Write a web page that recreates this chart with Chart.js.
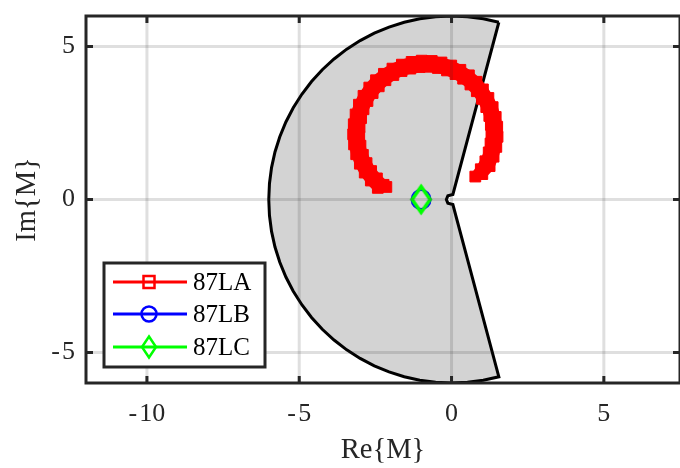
<!DOCTYPE html>
<html>
<head>
<meta charset="utf-8">
<script src="https://cdn.jsdelivr.net/npm/chart.js@4/dist/chart.umd.min.js"></script>
<style>
  html, body { margin: 0; padding: 0; overflow: hidden; background: #fff; }
  canvas { display: block; }
</style>
</head>
<body>
<canvas id="chart" width="680" height="468"></canvas>
<script>
"use strict";

// stability region outline: outer arc (r = 6), then the small notch round the origin
var regionRe = [1.553, 1.042, 0.523, 0, -0.523, -1.042, -1.553, -2.052, -2.536, -3, -3.441, -3.857, -4.243,
                -4.596, -4.915, -5.196, -5.438, -5.638, -5.796, -5.909, -5.977, -6, -5.977, -5.909, -5.796,
                -5.638, -5.438, -5.196, -4.915, -4.596, -4.243, -3.857, -3.441, -3, -2.536, -2.052, -1.553,
                -1.042, -0.523, 0, 0.523, 1.042, 1.553,
                0.044, -0.120, -0.170, -0.120, 0.044, 1.553];
var regionIm = [5.796, 5.909, 5.977, 6, 5.977, 5.909, 5.796, 5.638, 5.438, 5.196, 4.915, 4.596, 4.243,
                3.857, 3.441, 3, 2.536, 2.052, 1.553, 1.042, 0.523, 0, -0.523, -1.042, -1.553,
                -2.052, -2.536, -3, -3.441, -3.857, -4.243, -4.596, -4.915, -5.196, -5.438, -5.638, -5.796,
                -5.909, -5.977, -6, -5.977, -5.909, -5.796,
                -0.164, -0.120, 0, 0.120, 0.164, 5.796];

// 87LA, inner and outer traces
var laInnerRe = [0.78, 0.96, 1.11, 1.22, 1.28, 1.31, 1.29, 1.24, 1.14, 1.00, 0.83, 0.62, 0.38, 0.13, -0.15, -0.45,
                 -0.75, -1.05, -1.35, -1.64, -1.91, -2.17, -2.39, -2.59, -2.76, -2.89, -2.97, -3.02, -3.03, -2.99,
                 -2.91, -2.79, -2.64, -2.45, -2.23, -2.14];
var laInnerIm = [0.75, 0.99, 1.25, 1.54, 1.83, 2.13, 2.44, 2.73, 3.02, 3.29, 3.54, 3.76, 3.95, 4.10, 4.22, 4.30,
                 4.34, 4.33, 4.28, 4.20, 4.07, 3.90, 3.70, 3.48, 3.22, 2.95, 2.66, 2.36, 2.06, 1.76,
                 1.46, 1.19, 0.93, 0.69, 0.48, 0.41];
var laOuterRe = [1.01, 1.25, 1.38, 1.47, 1.51, 1.50, 1.45, 1.35, 1.21, 1.03, 0.82, 0.57, 0.29, -0.01, -0.33, -0.65,
                 -0.98, -1.31, -1.63, -1.94, -2.22, -2.48, -2.70, -2.89, -3.04, -3.15, -3.21, -3.23, -3.20, -3.13,
                 -3.01, -2.85, -2.65, -2.42];
var laOuterIm = [0.83, 1.09, 1.40, 1.72, 2.05, 2.38, 2.70, 3.02, 3.32, 3.60, 3.85, 4.06, 4.24, 4.38, 4.48, 4.53,
                 4.54, 4.50, 4.41, 4.28, 4.11, 3.90, 3.66, 3.39, 3.10, 2.78, 2.46, 2.13, 1.80, 1.48,
                 1.17, 0.88, 0.62, 0.38];

var lbRe = [-1];
var lbIm = [0];
var lcRe = [-1];
var lcIm = [0];

var seriesNames = ["87LA", "87LB", "87LC"];
var seriesColors = ["#ff0000", "#0000ff", "#00ff00"];
var xTicks = [-10, -5, 0, 5];
var yTicks = [-5, 0, 5];

var AXIS_COLOR = "#262626";
var SERIF = "'Liberation Serif', 'Times New Roman', serif";

function toPoints(xs, ys) {
  return xs.map(function(x, i) { return { x: x, y: ys[i] }; });
}

function noScalePadding(scale) {
  scale.paddingLeft = 0;
  scale.paddingRight = 0;
  scale.paddingTop = 0;
  scale.paddingBottom = 0;
}

// negative labels get a hair of air after the sign
function tickText(v) {
  return v < 0 ? "-\u200A" + Math.abs(v) : String(v);
}

function diamondPath(ctx, cx, cy, hw, hh) {
  ctx.moveTo(cx, cy - hh);
  ctx.lineTo(cx + hw, cy);
  ctx.lineTo(cx, cy + hh);
  ctx.lineTo(cx - hw, cy);
  ctx.closePath();
}

// hollow diamond marker, a bit taller than wide
function makeDiamond(hw, hh, lw, color) {
  var c = document.createElement("canvas");
  c.width = Math.ceil(2 * hw + 2 * lw + 2);
  c.height = Math.ceil(2 * hh + 2 * lw + 2);
  var g = c.getContext("2d");
  g.strokeStyle = color;
  g.lineWidth = lw;
  g.lineJoin = "miter";
  g.beginPath();
  diamondPath(g, c.width / 2, c.height / 2, hw, hh);
  g.stroke();
  return c;
}

// grid on top of the data, box, inward ticks, legend
var axesOverlay = {
  id: "axesOverlay",
  afterDatasetsDraw: function(chart) {
    var ctx = chart.ctx;
    var area = chart.chartArea;
    var xs = chart.scales.x;
    var ys = chart.scales.y;

    ctx.save();
    ctx.strokeStyle = "rgba(38,38,38,0.15)";
    ctx.lineWidth = 3;
    xTicks.forEach(function(v) {
      var px = xs.getPixelForValue(v);
      ctx.beginPath();
      ctx.moveTo(px, area.top);
      ctx.lineTo(px, area.bottom);
      ctx.stroke();
    });
    yTicks.forEach(function(v) {
      var py = ys.getPixelForValue(v);
      ctx.beginPath();
      ctx.moveTo(area.left, py);
      ctx.lineTo(area.right, py);
      ctx.stroke();
    });

    ctx.strokeStyle = AXIS_COLOR;
    ctx.lineWidth = 3;
    ctx.strokeRect(area.left, area.top, area.right - area.left, area.bottom - area.top);

    var tl = 7;
    ctx.beginPath();
    xTicks.forEach(function(v) {
      var px = xs.getPixelForValue(v);
      ctx.moveTo(px, area.bottom);
      ctx.lineTo(px, area.bottom - tl);
      ctx.moveTo(px, area.top);
      ctx.lineTo(px, area.top + tl);
    });
    yTicks.forEach(function(v) {
      var py = ys.getPixelForValue(v);
      ctx.moveTo(area.left, py);
      ctx.lineTo(area.left + tl, py);
      ctx.moveTo(area.right, py);
      ctx.lineTo(area.right - tl, py);
    });
    ctx.stroke();

    // legend
    var box = { left: 104, top: 263, right: 265, bottom: 367 };
    ctx.fillStyle = "#ffffff";
    ctx.fillRect(box.left, box.top, box.right - box.left, box.bottom - box.top);
    ctx.strokeStyle = AXIS_COLOR;
    ctx.lineWidth = 3;
    ctx.strokeRect(box.left, box.top, box.right - box.left, box.bottom - box.top);

    var rows = [282, 314, 347];
    ctx.font = "25px " + SERIF;
    ctx.textBaseline = "middle";
    ctx.textAlign = "left";
    seriesNames.forEach(function(name, i) {
      var y = rows[i];
      var mx = 149;
      ctx.strokeStyle = seriesColors[i];
      ctx.lineWidth = 3;
      ctx.beginPath();
      ctx.moveTo(113, y);
      ctx.lineTo(187, y);
      ctx.stroke();
      ctx.lineWidth = 2.5;
      ctx.beginPath();
      if (i === 0) {
        ctx.rect(mx - 5.5, y - 6, 11, 12);
      } else if (i === 1) {
        ctx.arc(mx, y, 7.5, 0, Math.PI * 2);
      } else {
        diamondPath(ctx, mx, y, 7, 10.5);
      }
      ctx.stroke();
      ctx.fillStyle = "#000000";
      ctx.fillText(name, 193, y + 1);
    });
    ctx.restore();
  }
};

var laStyle = {
  showLine: true,
  tension: 0,
  borderWidth: 10,
  borderColor: seriesColors[0],
  pointStyle: "rect",
  pointRadius: 7.6,
  pointBorderWidth: 1,
  pointBorderColor: seriesColors[0],
  pointBackgroundColor: seriesColors[0],
  backgroundColor: seriesColors[0],
  fill: false
};

var datasets = [
  {
    label: seriesNames[2],
    data: toPoints(lcRe, lcIm),
    order: 0,
    showLine: false,
    pointStyle: makeDiamond(9, 13, 3.5, seriesColors[2]),
    pointRadius: 10,
    borderColor: seriesColors[2],
    backgroundColor: "rgba(0,0,0,0)"
  },
  {
    label: seriesNames[1],
    data: toPoints(lbRe, lbIm),
    order: 1,
    showLine: false,
    pointStyle: "circle",
    pointRadius: 9.5,
    borderWidth: 2,
    borderColor: seriesColors[1],
    backgroundColor: "rgba(0,0,0,0)"
  },
  Object.assign({ label: seriesNames[0], data: toPoints(laInnerRe, laInnerIm), order: 2 }, laStyle),
  Object.assign({ label: seriesNames[0] + " outer", data: toPoints(laOuterRe, laOuterIm), order: 3 }, laStyle),
  {
    label: "region",
    data: toPoints(regionRe, regionIm),
    order: 4,
    showLine: true,
    fill: "shape",
    tension: 0,
    pointRadius: 0,
    borderWidth: 3,
    borderColor: "#000000",
    backgroundColor: "#d3d3d3"
  }
];

Chart.defaults.font.family = SERIF;
Chart.defaults.color = AXIS_COLOR;

new Chart(document.getElementById("chart"), {
  type: "scatter",
  data: { datasets: datasets },
  options: {
    responsive: false,
    animation: false,
    events: [],
    // right edge of the axes box sits just past the canvas
    layout: { autoPadding: false, padding: { top: 16, right: -2, bottom: 0, left: 0 } },
    plugins: {
      legend: { display: false },
      tooltip: { enabled: false }
    },
    scales: {
      x: {
        type: "linear",
        min: -12,
        max: 7.5,
        afterBuildTicks: function(scale) {
          scale.ticks = xTicks.map(function(v) { return { value: v }; });
        },
        afterFit: function(scale) {
          scale.height = 85;
          noScalePadding(scale);
        },
        grid: { display: false, drawTicks: false },
        border: { display: false },
        ticks: { font: { size: 26 }, color: AXIS_COLOR, padding: 16, maxRotation: 0, callback: tickText },
        title: { display: true, text: "Re{M}", font: { size: 28.6 }, color: AXIS_COLOR, padding: { top: 0, bottom: 0 } }
      },
      y: {
        type: "linear",
        min: -6,
        max: 6,
        afterBuildTicks: function(scale) {
          scale.ticks = yTicks.map(function(v) { return { value: v }; });
        },
        afterFit: function(scale) {
          scale.width = 86;
          noScalePadding(scale);
        },
        grid: { display: false, drawTicks: false },
        border: { display: false },
        ticks: { font: { size: 26 }, color: AXIS_COLOR, padding: 11, callback: tickText },
        title: { display: true, text: "Im{M}", font: { size: 28.6 }, color: AXIS_COLOR, padding: { top: 10, bottom: 0 } }
      }
    }
  },
  plugins: [axesOverlay]
});
</script>
</body>
</html>
